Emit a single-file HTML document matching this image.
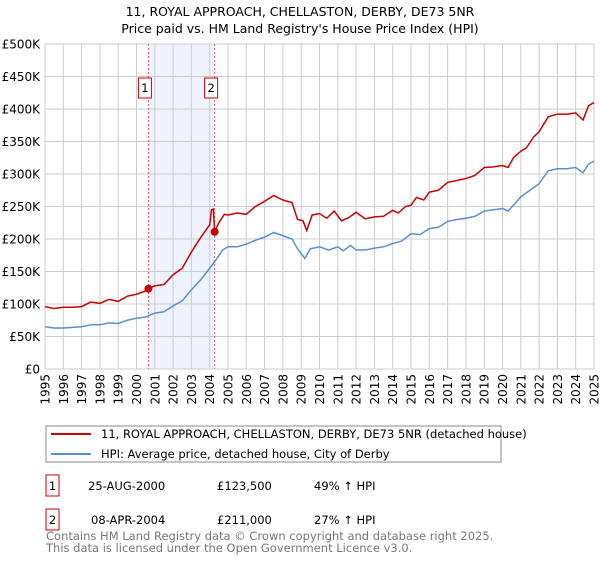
<!DOCTYPE html>
<html><head><meta charset="utf-8"><style>
body{margin:0;background:#fff;font-family:"DejaVu Sans","Liberation Sans",sans-serif;}
svg text{font-family:"DejaVu Sans","Liberation Sans",sans-serif;}
</style></head><body>
<svg id="chart" width="600" height="560" xmlns="http://www.w3.org/2000/svg">
<text x="300" y="16" text-anchor="middle" font-size="12.5" fill="#000">11, ROYAL APPROACH, CHELLASTON, DERBY, DE73 5NR</text>
<text x="300" y="33" text-anchor="middle" font-size="12.5" fill="#000">Price paid vs. HM Land Registry's House Price Index (HPI)</text>
<g id="plot"></g>
<g>
<rect x="46" y="426" width="455" height="36" fill="#fff" stroke="#888"/>
<line x1="51" y1="434" x2="91" y2="434" stroke="#cc0000" stroke-width="2"/>
<text x="101" y="438" font-size="11.5">11, ROYAL APPROACH, CHELLASTON, DERBY, DE73 5NR (detached house)</text>
<line x1="51" y1="454" x2="91" y2="454" stroke="#5b8fd4" stroke-width="2"/>
<text x="101" y="458" font-size="11.5">HPI: Average price, detached house, City of Derby</text>
</g>
<g>
<rect x="46" y="475" width="13" height="21" fill="#fff" stroke="#cc0000"/>
<text x="52.5" y="490" font-size="11.5" text-anchor="middle">1</text>
<text x="88" y="490" font-size="11.5">25-AUG-2000</text>
<text x="217" y="490" font-size="11.5">£123,500</text>
<text x="314" y="490" font-size="11.5">49% ↑ HPI</text>
<rect x="46" y="509" width="13" height="21" fill="#fff" stroke="#cc0000"/>
<text x="52.5" y="524" font-size="11.5" text-anchor="middle">2</text>
<text x="91" y="524" font-size="11.5">08-APR-2004</text>
<text x="217" y="524" font-size="11.5">£211,000</text>
<text x="314" y="524" font-size="11.5">27% ↑ HPI</text>
</g>
<text x="46" y="540" font-size="11.5" fill="#777">Contains HM Land Registry data © Crown copyright and database right 2025.</text>
<text x="46" y="552" font-size="11.5" fill="#777">This data is licensed under the Open Government Licence v3.0.</text>
</svg>
<script>
const hpiYears=[1995,1995.5,1996,1996.5,1997,1997.5,1998,1998.5,1999,1999.5,2000,2000.5,2001,2001.5,2002,2002.5,2003,2003.5,2004,2004.3,2004.7,2005,2005.5,2006,2006.5,2007,2007.5,2008,2008.5,2008.8,2009.2,2009.5,2010,2010.5,2011,2011.3,2011.7,2012,2012.5,2013,2013.5,2014,2014.5,2015,2015.5,2016,2016.5,2017,2017.5,2018,2018.5,2019,2019.5,2020,2020.3,2020.7,2021,2021.5,2022,2022.5,2023,2023.5,2024,2024.4,2024.7,2025];
const hpiValues=[65,63,63,64,65,68,68,71,70,75,78,80,86,88,97,105,122,137,155,166,183,188,188,192,198,203,210,205,200,185,170,185,188,183,188,182,190,183,183,186,188,193,197,208,207,216,218,227,230,232,235,243,245,247,243,255,265,275,285,305,308,308,310,302,315,320];
const propYears=[1995,1995.5,1996,1996.5,1997,1997.5,1998,1998.5,1999,1999.5,2000,2000.5,2000.65,2001,2001.5,2002,2002.5,2003,2003.5,2004,2004.1,2004.2,2004.27,2004.5,2004.8,2005,2005.5,2006,2006.5,2007,2007.5,2008,2008.5,2008.8,2009.1,2009.3,2009.6,2010,2010.4,2010.8,2011.2,2011.6,2012,2012.5,2013,2013.5,2014,2014.3,2014.7,2015,2015.3,2015.7,2016,2016.5,2017,2017.5,2018,2018.5,2019,2019.5,2020,2020.3,2020.6,2021,2021.3,2021.7,2022,2022.5,2023,2023.5,2024,2024.4,2024.7,2025];
const propValues=[96,93,95,95,96,103,101,107,104,112,115,120,123.5,128,130,145,155,180,202,222,245,246,211,225,238,237,240,238,250,258,267,260,256,230,228,213,237,239,232,243,228,233,241,231,234,235,244,240,250,252,264,260,272,275,287,290,293,298,310,311,313,310,325,335,340,357,365,388,392,392,394,383,405,410];
const saleYears=[2000.65,2004.27];
const saleValues=[123.5,211];
const saleLabels=["1","2"];
const yTicks=[0,50,100,150,200,250,300,350,400,450,500];
const yTickLabels=["£0","£50K","£100K","£150K","£200K","£250K","£300K","£350K","£400K","£450K","£500K"];
const xTicks=[1995,1996,1997,1998,1999,2000,2001,2002,2003,2004,2005,2006,2007,2008,2009,2010,2011,2012,2013,2014,2015,2016,2017,2018,2019,2020,2021,2022,2023,2024,2025];

const X0=45,X1=594,Y0=369,Y1=44;
const xs=y=>X0+(y-1995)/30*(X1-X0);
const ys=v=>Y0-v/500*(Y0-Y1);
const NS="http://www.w3.org/2000/svg";
const plot=document.getElementById('plot');
function mk(tag,attrs,parent){const e=document.createElementNS(NS,tag);for(const k in attrs)e.setAttribute(k,attrs[k]);(parent||plot).appendChild(e);return e;}

let e=mk('rect',{x:xs(saleYears[0]),y:Y1,width:xs(saleYears[1])-xs(saleYears[0]),height:Y0-Y1,fill:'#eef3fd'});



yTicks.forEach((t,i)=>{
  const g=mk('line',{x1:X0,x2:X1,y1:ys(t),y2:ys(t),stroke:'#ccc','stroke-width':1});
  
  
  const l=mk('text',{x:X0-5,y:ys(t)+4.5,'text-anchor':'end','font-size':12});
  l.textContent=yTickLabels[i];
  
  
});
xTicks.forEach(t=>{
  const g=mk('line',{x1:xs(t),x2:xs(t),y1:Y1,y2:Y0,stroke:'#ccc','stroke-width':1});
  
  
  const l=mk('text',{x:0,y:0,'text-anchor':'end','font-size':12,transform:`translate(${xs(t)+4.5},${Y0+5}) rotate(-90)`});
  l.textContent=t;
  
  
});

saleYears.forEach((s,i)=>{
  const d=mk('line',{x1:xs(s),x2:xs(s),y1:Y1,y2:Y0,stroke:'#e85a5a','stroke-width':1,'stroke-dasharray':'2,2'});
  
  
  const b=mk('rect',{x:xs(s)-10,y:78,width:13,height:20,fill:'#fff',stroke:'#cc0000'});
  
  
  const t=mk('text',{x:xs(s)-3.5,y:92,'text-anchor':'middle','font-size':11.5});
  t.textContent=saleLabels[i];
  
  
});

const hp=mk('polyline',{points:hpiYears.map((y,i)=>xs(y)+','+ys(hpiValues[i])).join(' '),fill:'none',stroke:'#5b8fd4','stroke-width':1.5});


const pp=mk('polyline',{points:propYears.map((y,i)=>xs(y)+','+ys(propValues[i])).join(' '),fill:'none',stroke:'#cc0000','stroke-width':1.5});


saleYears.forEach((s,i)=>{
  const c=mk('circle',{cx:xs(s),cy:ys(saleValues[i]),r:4,fill:'#cc0000'});
  
  
});
</script>
</body></html>
